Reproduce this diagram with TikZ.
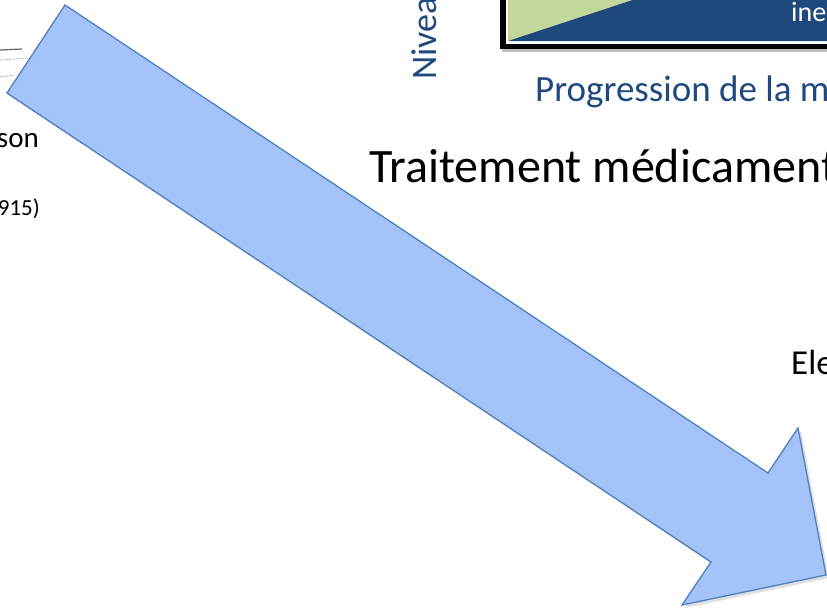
\documentclass[tikz,border=0pt]{standalone}
\usepackage{fontspec}
\setmainfont{Carlito}
\usetikzlibrary{shadows}

\definecolor{flecha}{RGB}{164,195,248}
\definecolor{bordeflecha}{RGB}{79,129,189}
\definecolor{azuloscuro}{RGB}{31,73,125}
\definecolor{verde}{RGB}{196,215,155}

\begin{document}
\begin{tikzpicture}[x=1pt, y=-1pt,
    texto/.style={inner sep=0pt, font=\fontsize{#1}{#1}\selectfont}]

    \useasboundingbox (0,0) rectangle (827,611);
    \clip (0,0) rectangle (827,611);

    % Restos del dibujo de la izquierda
    \draw[black!60, line width=1.2pt] (0,50) -- (22,49);
    \draw[black!40, densely dotted, line width=0.8pt] (0,60) -- (30,58);
    \draw[black!45, densely dotted, line width=0.8pt] (0,77) -- (14,75);

    % Cuadro de la grafica
    \fill[black!25] (502,-10) rectangle (842,52);
    \fill[black] (500,-10) rectangle (840,49);
    \fill[white] (506,-10) rectangle (840,44);
    \fill[verde] (508,-10) rectangle (840,41);
    \fill[azuloscuro] (508,41) -- (663,-10) -- (840,-10) -- (840,41) -- cycle;
    \node[texto=28, text=white, anchor=base west] (ine) at (791,21) {ine};

    % Ejes
    \node[texto=36, text=azuloscuro, rotate=90, anchor=base west] (nivel) at (436,80) {Nivea};
    \node[texto=37, text=azuloscuro, anchor=base west] (progresion) at (535,101) {Progression de la m};

    % Textos
    \node[texto=48, anchor=base west] (traitement) at (369,182) {Traitement médicament};
    \node[texto=35, anchor=base west] (ele) at (791,374) {Ele};
    \node[texto=29, anchor=base east] (son) at (39,147) {son};
    \node[texto=23, anchor=base east] (anio) at (40,215) {915)};

    % Flecha
    \draw[bordeflecha, fill=flecha, line width=1.3pt, line join=miter,
          drop shadow={opacity=0.25, shadow xshift=3pt, shadow yshift=-3pt}]
        (65,5) -- (768,473) -- (798,428) -- (826,575) -- (682,605) -- (711,562) -- (7,93) -- cycle;

\end{tikzpicture}
\end{document}
